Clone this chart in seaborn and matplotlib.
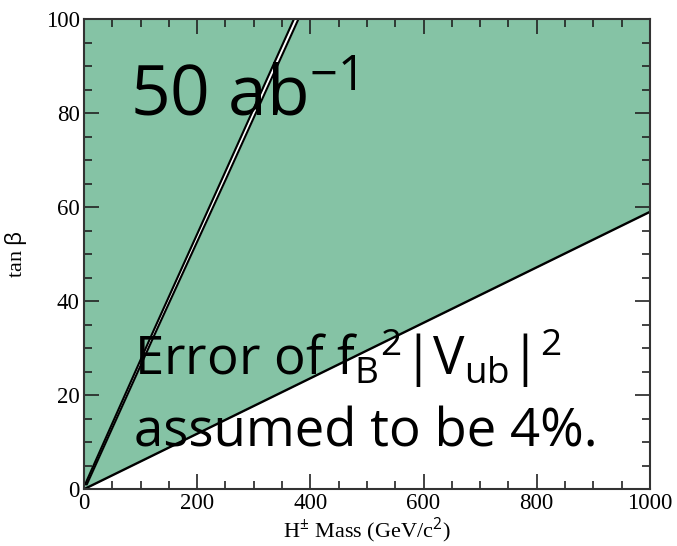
import numpy as np
import pandas as pd
import seaborn as sns
import matplotlib
matplotlib.use('Agg')
import matplotlib.pyplot as plt
from matplotlib.ticker import MultipleLocator

# excluded region boundary (lower line)
lower_mass = [0, 1000]
lower_tanb = [0, 59]

# narrow allowed band along the steep line
band_tanb = [1, 34, 66, 100]
band_left_mass = [2, 124, 244, 371]
band_right_mass = [5, 129, 251, 379]

x_ticks = [0, 200, 400, 600, 800, 1000]
y_ticks = [0, 20, 40, 60, 80, 100]

green = '#85c3a5'

sns.set_style('ticks')
plt.rcParams['font.family'] = ['Liberation Serif', 'DejaVu Serif']
plt.rcParams['mathtext.fontset'] = 'custom'
plt.rcParams['mathtext.rm'] = 'Open Sans'
plt.rcParams['mathtext.it'] = 'Open Sans'
plt.rcParams['text.color'] = 'black'
plt.rcParams['axes.labelcolor'] = 'black'
plt.rcParams['xtick.color'] = 'black'
plt.rcParams['ytick.color'] = 'black'

fig = plt.figure(figsize=(6.77, 5.46), dpi=100)
ax = fig.add_axes([0.124, 0.104, 0.836, 0.861])
ax.set_axisbelow(False)

# green fill above the lower line
xs = np.array(lower_mass, dtype=float)
ax.fill_between(xs, lower_tanb, 100, color=green, lw=0, zorder=1)
# white band
ax.fill_betweenx(band_tanb, band_left_mass, band_right_mass, color='white', lw=0, zorder=2)

df_low = pd.DataFrame({'mass': lower_mass, 'tanb': lower_tanb})
sns.lineplot(data=df_low, x='mass', y='tanb', color='black', lw=1.7, ax=ax, zorder=3)
for m in (band_left_mass, band_right_mass):
    d = pd.DataFrame({'mass': m, 'tanb': band_tanb})
    sns.lineplot(data=d, x='mass', y='tanb', color='black', lw=1.5, ax=ax,
                 sort=False, estimator=None, zorder=3)

ax.set_xlim(0, 1000)
ax.set_ylim(0, 100)
ax.set_xticks(x_ticks)
ax.set_yticks(y_ticks)
ax.xaxis.set_minor_locator(MultipleLocator(50))
ax.yaxis.set_minor_locator(MultipleLocator(5))
ax.tick_params(which='both', direction='in', top=True, right=True, labelsize=16.5,
               color='#222222', width=1.2)
ax.tick_params(which='major', length=11, pad=3)
ax.tick_params(which='minor', length=5.5)
for s in ax.spines.values():
    s.set_linewidth(1.5)
    s.set_color('#333333')
    s.set_zorder(4)

ax.set_xlabel(r'H$^{\pm}$ Mass (GeV/c$^{2}$)', fontsize=16, labelpad=1)
ax.set_ylabel(r'tan $\beta$', fontsize=16, labelpad=12)

txt_font = ['Open Sans', 'DejaVu Sans']
ax.text(0.082, 0.795, r'50 ab$^{\mathregular{-1}}$', transform=ax.transAxes,
        fontsize=50, family=txt_font, zorder=5)
ax.text(0.088, 0.243, r'Error of f$_{\mathregular{B}}$$^{\mathregular{2}}$|V$_{\mathregular{ub}}$|$^{\mathregular{2}}$',
        transform=ax.transAxes, fontsize=38, family=txt_font, zorder=5)
ax.text(0.088, 0.09, 'assumed to be 4%.', transform=ax.transAxes,
        fontsize=38, family=txt_font, zorder=5)

fig.savefig('out.png', dpi=100)
